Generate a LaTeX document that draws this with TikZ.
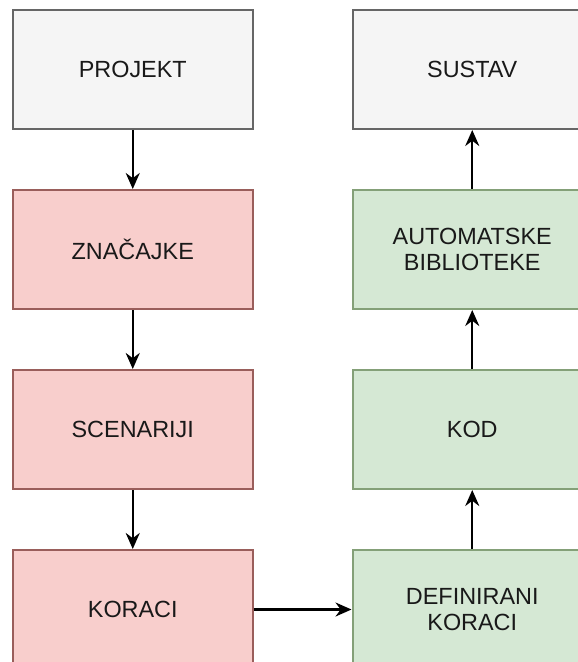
\documentclass[tikz,border=0pt]{standalone}
\usepackage{xcolor}
\usepackage{fontspec}
\setmainfont{Liberation Sans}
\usepackage{tikz}
\usetikzlibrary{arrows.meta, positioning, calc}
\definecolor{grayfill}{HTML}{F5F5F5}
\definecolor{graydraw}{HTML}{666666}
\definecolor{redfill}{HTML}{F8CECC}
\definecolor{reddraw}{HTML}{9A5E5B}
\definecolor{greenfill}{HTML}{D5E8D4}
\definecolor{greendraw}{HTML}{84A078}
\tikzstyle{arrow} = [line width=1.1pt,->,>={Stealth[length=8pt,width=7pt]}]
\tikzstyle{block} = [rectangle, minimum width=119.75pt, minimum height=59.5pt, align=center, line width=1pt, text=black!90, font=\fontsize{11.7}{12.6}\selectfont]
\tikzstyle{graybox} = [block, draw=graydraw, fill=grayfill]
\tikzstyle{redbox} = [block, draw=reddraw, fill=redfill]
\tikzstyle{greenbox} = [block, draw=greendraw, fill=greenfill]

\begin{document}
\begin{tikzpicture}[node distance=29.5pt]
    % Frame of the picture
    \useasboundingbox (0,0) rectangle (288.5pt,-331pt);

    % Left column
    \node[graybox, anchor=north west] (projekt) at (6pt,-4.5pt) {PROJEKT};
    \node[redbox, below=of projekt] (znacajke) {ZNAČAJKE};
    \node[redbox, below=of znacajke] (scenariji) {SCENARIJI};
    \node[redbox, below=of scenariji] (koraci) {KORACI};

    % Right column
    \node[greenbox, right=49pt of koraci] (definirani) {DEFINIRANI\\KORACI};
    \node[greenbox, above=of definirani] (kod) {KOD};
    \node[greenbox, above=of kod] (biblioteke) {AUTOMATSKE\\BIBLIOTEKE};
    \node[graybox, above=of biblioteke] (sustav) {SUSTAV};

    % Flow
    \draw[arrow] (projekt) -- (znacajke);
    \draw[arrow] (znacajke) -- (scenariji);
    \draw[arrow] (scenariji) -- (koraci);
    \draw[arrow] (koraci) -- (definirani);
    \draw[arrow] (definirani) -- (kod);
    \draw[arrow] (kod) -- (biblioteke);
    \draw[arrow] (biblioteke) -- (sustav);

\end{tikzpicture}
\end{document}
